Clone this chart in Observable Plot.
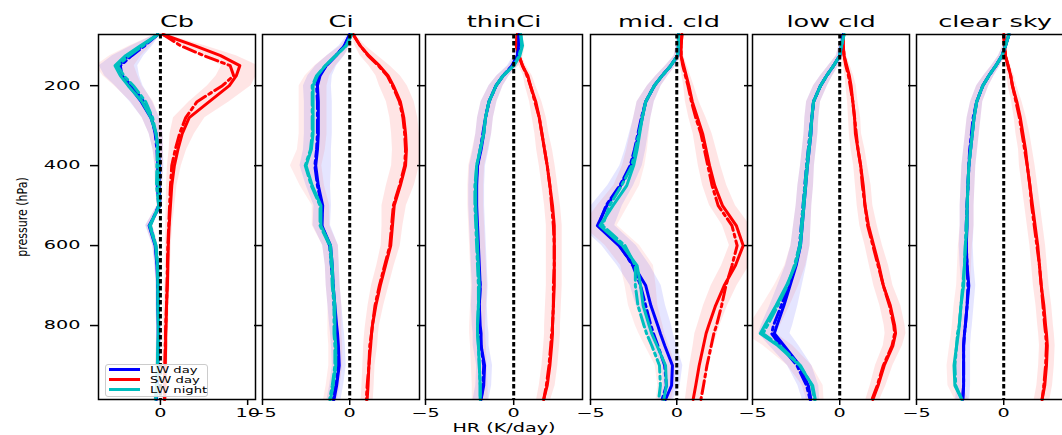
<!DOCTYPE html>
<html><head><meta charset="utf-8">
<script src="https://cdn.jsdelivr.net/npm/d3@7"></script>
<script src="https://cdn.jsdelivr.net/npm/@observablehq/plot@0.6"></script>
<style>
html,body{margin:0;padding:0;background:#fff;overflow:hidden;}
#chart{position:relative;width:1062px;height:435px;overflow:hidden;background:#fff;font-family:"DejaVu Sans",sans-serif;}
#chart svg{position:absolute;top:0;}
#chart svg [aria-label$="tick"]{stroke-width:1.5px;}
#chart svg .tick line{stroke-width:1.5px;}
.legend{position:absolute;left:105px;top:364px;width:101px;height:31px;border:1px solid #ccc;border-radius:3px;background:rgba(255,255,255,0.85);font-family:"DejaVu Sans",sans-serif;font-size:8.5px;}
.legend .sw{position:absolute;left:3px;width:31px;height:3px;}
.legend .lb{position:absolute;left:44px;height:10px;line-height:10px;white-space:nowrap;transform:scaleX(1.55);transform-origin:left center;color:#000;}
</style></head><body><div id="chart"></div>
<script>
// ---------- data ----------
const levels = [72, 100, 125, 150, 175, 200, 240, 280, 320, 360, 400, 450, 500, 550, 600, 650, 700, 750, 800, 820, 850, 900, 950, 985];

const seriesNames = ["LW day", "SW day", "LW night"];
const panelTitles = ["Cb", "Ci", "thinCi", "mid. cld", "low cld", "clear sky"];
const xDomains = [[-7.1, 10.9], [-5, 4.0], [-5, 3.9], [-5, 4.1], [-5, 4.0], [-5, 4.0]];
const xTicks = [[0, 10], [-5, 0], [-5, 0], [-5, 0], [-5, 0], [-5, 0]];
const yTicks = [200, 400, 600, 800];
const pressureDomain = [72, 985];
const zeroLine = [0];
const xLabel = "HR (K/day)";
const yLabel = "pressure (hPa)";

// Cb
const cbLwDay     = [-0.3, -2.1, -3.7, -4.8, -4.4, -3.6, -2.2, -1.1, -0.5, -0.25, -0.1, -0.15, -0.05, -1.3, -0.6, -0.4, -0.3, -0.3, -0.25, -0.25, -0.25, -0.3, -0.4, -0.5];
const cbLwDayDD   = [-0.3, -1.8, -3.3, -4.6, -4.4, -3.3, -1.9, -1.0, -0.6, -0.4, -0.3, -0.35, -0.2, -1.2, -0.55, -0.35, -0.3, -0.25, -0.2, -0.2, -0.2, -0.25, -0.35, -0.45];
const cbSwDay     = [0.3, 3.9, 6.9, 9.1, 8.7, 7.9, 5.6, 3.3, 2.5, 2.0, 1.6, 1.3, 1.15, 1.0, 0.9, 0.85, 0.8, 0.7, 0.65, 0.6, 0.6, 0.55, 0.5, 0.5];
const cbSwDayDD   = [0.3, 2.3, 5.0, 8.0, 8.4, 7.1, 4.2, 2.9, 2.2, 1.7, 1.3, 1.15, 1.05, 0.95, 0.85, 0.8, 0.75, 0.7, 0.6, 0.6, 0.55, 0.5, 0.5, 0.45];
const cbLwNight   = [-0.3, -2.3, -4.0, -5.2, -4.6, -3.7, -2.1, -1.1, -0.5, -0.25, -0.15, -0.2, -0.1, -1.25, -0.55, -0.35, -0.3, -0.3, -0.25, -0.25, -0.3, -0.35, -0.45, -0.55];
const cbLwNightDD = [-0.3, -2.0, -3.6, -4.9, -4.2, -3.1, -1.7, -0.9, -0.5, -0.35, -0.4, -0.45, -0.2, -1.15, -0.5, -0.3, -0.25, -0.25, -0.2, -0.2, -0.25, -0.3, -0.4, -0.5];
const cbLwSpread  = [0.3, 1.2, 1.8, 2.2, 2.0, 1.6, 1.3, 1.0, 0.8, 0.6, 0.5, 0.4, 0.3, 0.4, 0.3, 0.25, 0.2, 0.2, 0.2, 0.2, 0.2, 0.2, 0.2, 0.2];
const cbSwSpread  = [0.3, 1.2, 1.8, 2.1, 2.3, 2.5, 2.3, 1.8, 1.4, 1.0, 0.8, 0.6, 0.5, 0.4, 0.35, 0.3, 0.3, 0.3, 0.3, 0.3, 0.3, 0.3, 0.3, 0.3];

// Ci
const ciLwDay     = [0.0, -0.3, -0.8, -1.35, -1.7, -1.85, -1.8, -1.8, -1.8, -1.85, -1.95, -1.8, -1.55, -1.6, -1.1, -1.0, -0.95, -0.85, -0.75, -0.7, -0.65, -0.6, -0.75, -0.9];
const ciLwDayDD   = [0.0, -0.3, -0.8, -1.35, -1.75, -1.9, -1.85, -1.85, -1.85, -1.9, -2.0, -1.85, -1.6, -1.6, -1.15, -1.05, -0.95, -0.9, -0.8, -0.75, -0.7, -0.65, -0.8, -0.95];
const ciSwDay     = [0.2, 0.6, 1.1, 1.7, 2.2, 2.5, 2.9, 3.1, 3.2, 3.25, 3.2, 2.9, 2.55, 2.45, 2.35, 2.05, 1.75, 1.5, 1.3, 1.25, 1.2, 1.1, 1.05, 1.0];
const ciSwDayDD   = [0.2, 0.6, 1.05, 1.65, 2.15, 2.45, 2.85, 3.05, 3.15, 3.2, 3.15, 2.85, 2.5, 2.4, 2.3, 2.0, 1.7, 1.45, 1.3, 1.25, 1.15, 1.1, 1.0, 0.95];
const ciLwNight   = [0.1, -0.2, -0.8, -1.4, -1.85, -2.1, -2.1, -2.1, -2.1, -2.2, -2.5, -2.15, -1.65, -1.65, -1.1, -1.0, -0.95, -0.85, -0.85, -0.85, -0.8, -0.8, -0.95, -1.1];
const ciLwNightDD = [0.1, -0.2, -0.8, -1.4, -1.9, -2.15, -2.15, -2.15, -2.15, -2.25, -2.55, -2.2, -1.7, -1.7, -1.15, -1.05, -1.0, -0.9, -0.9, -0.9, -0.85, -0.85, -1.0, -1.15];
const ciLwSpread  = [0.1, 0.3, 0.5, 0.6, 0.7, 0.8, 0.8, 0.8, 0.8, 0.8, 0.9, 0.7, 0.5, 0.5, 0.45, 0.4, 0.4, 0.4, 0.4, 0.4, 0.4, 0.4, 0.4, 0.4];
const ciSwSpread  = [0.1, 0.3, 0.5, 0.6, 0.7, 0.8, 0.8, 0.8, 0.8, 0.8, 0.8, 0.8, 0.7, 0.6, 0.55, 0.5, 0.5, 0.45, 0.4, 0.4, 0.4, 0.35, 0.35, 0.35];

// thinCi
const thLwDay     = [0.3, 0.3, 0.2, -0.05, -0.6, -1.0, -1.4, -1.6, -1.7, -1.85, -2.05, -2.1, -2.1, -2.05, -2.0, -1.95, -1.9, -1.95, -1.9, -1.85, -1.85, -1.65, -1.7, -1.85];
const thLwDayDD   = [0.3, 0.3, 0.2, -0.1, -0.6, -1.0, -1.4, -1.6, -1.75, -1.9, -2.05, -2.15, -2.15, -2.1, -2.05, -2.0, -1.9, -1.95, -1.95, -1.9, -1.85, -1.7, -1.75, -1.85];
const thSwDay     = [0.2, 0.15, 0.3, 0.5, 0.8, 0.95, 1.25, 1.45, 1.6, 1.75, 1.9, 2.05, 2.2, 2.3, 2.3, 2.3, 2.3, 2.25, 2.2, 2.2, 2.15, 2.05, 1.9, 1.7];
const thSwDayDD   = [0.2, 0.15, 0.3, 0.5, 0.75, 0.95, 1.2, 1.45, 1.6, 1.75, 1.9, 2.05, 2.15, 2.25, 2.3, 2.3, 2.25, 2.25, 2.2, 2.15, 2.1, 2.0, 1.85, 1.7];
const thLwNight   = [0.4, 0.5, 0.35, 0.0, -0.6, -1.0, -1.4, -1.6, -1.7, -1.9, -2.1, -2.15, -2.15, -2.1, -2.05, -2.0, -1.95, -2.0, -2.05, -2.05, -2.0, -1.95, -1.9, -1.9];
const thLwNightDD = [0.4, 0.45, 0.3, 0.0, -0.6, -1.0, -1.4, -1.6, -1.7, -1.9, -2.1, -2.2, -2.2, -2.15, -2.1, -2.05, -2.0, -2.0, -2.05, -2.05, -2.0, -1.95, -1.9, -1.9];
const thLwSpread  = [0.1, 0.15, 0.2, 0.3, 0.35, 0.4, 0.45, 0.45, 0.45, 0.45, 0.45, 0.45, 0.45, 0.45, 0.45, 0.45, 0.45, 0.45, 0.45, 0.45, 0.45, 0.45, 0.45, 0.45];
const thSwSpread  = [0.1, 0.1, 0.15, 0.2, 0.25, 0.3, 0.35, 0.4, 0.4, 0.45, 0.45, 0.45, 0.45, 0.45, 0.45, 0.45, 0.45, 0.45, 0.45, 0.45, 0.45, 0.45, 0.45, 0.4];

// mid. cld
const midLwDay     = [0.1, 0.1, 0.05, -0.35, -0.85, -1.3, -1.8, -2.0, -2.2, -2.4, -2.65, -3.25, -4.05, -4.6, -3.35, -2.5, -1.8, -1.5, -1.1, -0.95, -0.7, -0.25, -0.3, -0.65];
const midLwDayDD   = [0.1, 0.1, 0.05, -0.35, -0.85, -1.3, -1.8, -2.05, -2.25, -2.45, -2.7, -3.3, -4.1, -4.55, -3.3, -2.55, -2.1, -1.8, -1.5, -1.35, -1.1, -0.7, -0.6, -0.85];
const midSwDay     = [0.3, 0.25, 0.25, 0.4, 0.55, 0.7, 0.9, 1.2, 1.5, 1.7, 1.9, 2.2, 2.65, 3.45, 3.85, 3.4, 2.75, 2.25, 1.85, 1.7, 1.55, 1.3, 1.1, 0.95];
const midSwDayDD   = [0.3, 0.25, 0.25, 0.35, 0.5, 0.65, 0.85, 1.1, 1.4, 1.6, 1.8, 2.05, 2.4, 3.2, 3.5, 3.2, 2.85, 2.6, 2.3, 2.15, 2.0, 1.75, 1.55, 1.4];
const midLwNight   = [0.1, 0.1, 0.05, -0.35, -0.85, -1.3, -1.8, -2.0, -2.15, -2.3, -2.5, -2.9, -3.7, -4.45, -3.15, -2.3, -2.1, -1.95, -1.6, -1.45, -1.15, -0.65, -0.6, -0.75];
const midLwNightDD = [0.1, 0.1, 0.05, -0.35, -0.85, -1.3, -1.8, -2.0, -2.2, -2.4, -2.6, -3.2, -3.9, -4.3, -3.0, -2.4, -2.4, -2.25, -1.9, -1.75, -1.45, -1.0, -0.95, -1.05];
const midLwSpread  = [0.1, 0.15, 0.2, 0.3, 0.35, 0.4, 0.5, 0.5, 0.55, 0.6, 0.65, 0.75, 0.9, 1.0, 1.0, 0.95, 0.9, 0.85, 0.8, 0.75, 0.7, 0.6, 0.5, 0.45];
const midSwSpread  = [0.1, 0.1, 0.15, 0.2, 0.25, 0.3, 0.4, 0.5, 0.55, 0.6, 0.65, 0.7, 0.75, 0.8, 0.8, 0.8, 0.75, 0.7, 0.65, 0.65, 0.6, 0.55, 0.5, 0.45];

// low cld
const lowLwDay     = [0.2, 0.1, 0.0, -0.35, -0.75, -1.1, -1.5, -1.6, -1.65, -1.75, -1.85, -1.95, -2.05, -2.15, -2.25, -2.5, -2.85, -3.2, -3.6, -3.75, -3.2, -2.3, -1.8, -1.65];
const lowLwDayDD   = [0.2, 0.1, 0.0, -0.35, -0.75, -1.1, -1.5, -1.6, -1.7, -1.8, -1.9, -2.0, -2.1, -2.2, -2.3, -2.55, -2.95, -3.35, -3.8, -3.9, -3.4, -2.45, -1.9, -1.7];
const lowSwDay     = [0.2, 0.2, 0.25, 0.4, 0.55, 0.65, 0.75, 0.85, 0.9, 1.05, 1.2, 1.35, 1.45, 1.65, 1.95, 2.25, 2.5, 2.9, 3.15, 3.2, 3.05, 2.55, 2.2, 1.9];
const lowSwDayDD   = [0.2, 0.2, 0.25, 0.35, 0.5, 0.6, 0.75, 0.85, 0.95, 1.05, 1.2, 1.3, 1.45, 1.6, 1.9, 2.2, 2.5, 2.85, 3.1, 3.15, 3.0, 2.5, 2.15, 1.85];
const lowLwNight   = [0.25, 0.1, 0.0, -0.35, -0.75, -1.1, -1.5, -1.6, -1.65, -1.75, -1.85, -1.95, -2.05, -2.15, -2.25, -2.55, -3.05, -3.65, -4.3, -4.55, -3.55, -2.3, -1.55, -1.4];
const lowLwNightDD = [0.25, 0.1, 0.0, -0.35, -0.75, -1.1, -1.5, -1.6, -1.7, -1.8, -1.9, -2.0, -2.1, -2.2, -2.3, -2.6, -3.0, -3.55, -4.15, -4.4, -3.45, -2.25, -1.6, -1.45];
const lowLwSpread  = [0.1, 0.15, 0.2, 0.3, 0.35, 0.4, 0.4, 0.4, 0.4, 0.4, 0.4, 0.45, 0.45, 0.5, 0.55, 0.6, 0.7, 0.8, 0.9, 0.9, 0.85, 0.7, 0.6, 0.5];
const lowSwSpread  = [0.1, 0.1, 0.15, 0.2, 0.25, 0.3, 0.3, 0.35, 0.35, 0.4, 0.4, 0.45, 0.45, 0.5, 0.5, 0.55, 0.55, 0.6, 0.6, 0.6, 0.55, 0.5, 0.45, 0.4];

// clear sky
const clrLwDay     = [0.3, 0.1, -0.1, -0.45, -0.85, -1.2, -1.55, -1.7, -1.8, -1.9, -2.0, -2.05, -2.1, -2.1, -2.15, -2.1, -2.0, -2.1, -2.2, -2.25, -2.3, -2.3, -2.3, -2.35];
const clrLwDayDD   = [0.3, 0.1, -0.1, -0.45, -0.85, -1.2, -1.55, -1.75, -1.85, -1.95, -2.0, -2.05, -2.1, -2.15, -2.15, -2.1, -2.05, -2.1, -2.2, -2.25, -2.3, -2.3, -2.3, -2.35];
const clrSwDay     = [0.0, 0.05, 0.1, 0.25, 0.4, 0.5, 0.75, 0.95, 1.1, 1.25, 1.35, 1.5, 1.65, 1.8, 1.95, 2.05, 2.15, 2.3, 2.4, 2.45, 2.5, 2.45, 2.35, 2.2];
const clrSwDayDD   = [0.0, 0.05, 0.1, 0.25, 0.4, 0.5, 0.7, 0.9, 1.05, 1.2, 1.35, 1.5, 1.6, 1.75, 1.9, 2.05, 2.15, 2.25, 2.35, 2.4, 2.45, 2.4, 2.3, 2.2];
const clrLwNight   = [0.3, 0.1, -0.1, -0.45, -0.85, -1.2, -1.55, -1.7, -1.8, -1.9, -2.0, -2.05, -2.1, -2.1, -2.2, -2.25, -2.3, -2.45, -2.55, -2.6, -2.7, -2.85, -2.8, -2.4];
const clrLwNightDD = [0.3, 0.1, -0.1, -0.45, -0.85, -1.2, -1.55, -1.7, -1.8, -1.9, -2.0, -2.05, -2.1, -2.15, -2.2, -2.25, -2.35, -2.45, -2.55, -2.65, -2.7, -2.8, -2.75, -2.4];
const clrLwSpread  = [0.1, 0.15, 0.2, 0.25, 0.3, 0.35, 0.35, 0.4, 0.4, 0.4, 0.4, 0.4, 0.4, 0.4, 0.4, 0.4, 0.4, 0.4, 0.4, 0.4, 0.4, 0.4, 0.4, 0.4];
const clrSwSpread  = [0.05, 0.1, 0.1, 0.15, 0.2, 0.25, 0.3, 0.35, 0.4, 0.4, 0.45, 0.45, 0.45, 0.45, 0.45, 0.45, 0.45, 0.45, 0.45, 0.45, 0.45, 0.45, 0.45, 0.45];

// ---------- assemble ----------
const panels = [
  {lwDay: cbLwDay, lwDayDD: cbLwDayDD, swDay: cbSwDay, swDayDD: cbSwDayDD, lwNight: cbLwNight, lwNightDD: cbLwNightDD, lwSpread: cbLwSpread, swSpread: cbSwSpread},
  {lwDay: ciLwDay, lwDayDD: ciLwDayDD, swDay: ciSwDay, swDayDD: ciSwDayDD, lwNight: ciLwNight, lwNightDD: ciLwNightDD, lwSpread: ciLwSpread, swSpread: ciSwSpread},
  {lwDay: thLwDay, lwDayDD: thLwDayDD, swDay: thSwDay, swDayDD: thSwDayDD, lwNight: thLwNight, lwNightDD: thLwNightDD, lwSpread: thLwSpread, swSpread: thSwSpread},
  {lwDay: midLwDay, lwDayDD: midLwDayDD, swDay: midSwDay, swDayDD: midSwDayDD, lwNight: midLwNight, lwNightDD: midLwNightDD, lwSpread: midLwSpread, swSpread: midSwSpread},
  {lwDay: lowLwDay, lwDayDD: lowLwDayDD, swDay: lowSwDay, swDayDD: lowSwDayDD, lwNight: lowLwNight, lwNightDD: lowLwNightDD, lwSpread: lowLwSpread, swSpread: lowSwSpread},
  {lwDay: clrLwDay, lwDayDD: clrLwDayDD, swDay: clrSwDay, swDayDD: clrSwDayDD, lwNight: clrLwNight, lwNightDD: clrLwNightDD, lwSpread: clrLwSpread, swSpread: clrSwSpread}
];

// ---------- layout & style ----------
const BLUE = "#0000ff", RED = "#ff0000", CYAN = "#00bfbf";
const seriesColors = [BLUE, RED, CYAN];
const frameLefts = [98, 262, 425, 590, 752, 916];
const frameWidth = 157;
const H = 435, MT = 34, MB = 36;
const SX = 1.6;
const DASHDOT = "13,4,3,4";

function rows(vals, spread) {
  return levels.map((p, i) => ({p, v: vals[i], lo: spread ? vals[i] - spread[i] : vals[i], hi: spread ? vals[i] + spread[i] : vals[i]}));
}

function stretchText(svg) {
  svg.querySelectorAll("text").forEach(el => {
    const tr = el.getAttribute("transform") || "";
    if (/rotate/.test(tr)) {
      el.setAttribute("transform", tr + " scale(1,1.3)");
    } else {
      const x0 = parseFloat(el.getAttribute("x")) || 0;
      el.setAttribute("transform", (tr + ` translate(${x0},0) scale(${SX},1) translate(${-x0},0)`).trim());
    }
  });
}

const chart = document.getElementById("chart");

panels.forEach((P, i) => {
  const first = i === 0;
  const ml = first ? frameLefts[0] : 12;
  const mr = 4;
  const sw = rows(P.swDay, P.swSpread), swdd = rows(P.swDayDD);
  const lw = rows(P.lwDay, P.lwSpread), lwdd = rows(P.lwDayDD);
  const ln = rows(P.lwNight, P.lwSpread), lndd = rows(P.lwNightDD);
  const line = (d, c, dash) => Plot.line(d, {x: "v", y: "p", stroke: c, strokeWidth: 3, strokeDasharray: dash, strokeLinejoin: "round"});
  const band = (d, c, o) => Plot.areaX(d, {y: "p", x1: "lo", x2: "hi", fill: c, fillOpacity: o, clip: true});
  const marks = [
    band(sw, RED, 0.1),
    band(lw, BLUE, 0.1),
    band(ln, RED, 0.08),
    line(swdd, RED, DASHDOT),
    line(sw, RED, null),
    line(lwdd, BLUE, DASHDOT),
    line(lw, BLUE, null),
    line(lndd, CYAN, DASHDOT),
    line(ln, CYAN, null),
    Plot.ruleX(zeroLine, {stroke: "black", strokeWidth: 3, strokeDasharray: "4.5,2.5"}),
    Plot.frame({stroke: "black", strokeWidth: 1.5}),
    Plot.text([panelTitles[i]], {frameAnchor: "top", dy: -13, fontSize: 16, lineAnchor: "middle", textAnchor: "middle", fill: "black"})
  ];
  if (first) marks.push(Plot.text([yLabel], {frameAnchor: "left", dx: -76, rotate: -90, fontSize: 11, textAnchor: "middle", lineAnchor: "middle", fill: "black"}));
  if (i === 2) marks.push(Plot.text([xLabel], {frameAnchor: "bottom", dy: 29, fontSize: 12, textAnchor: "middle", lineAnchor: "middle", fill: "black"}));

  const svg = Plot.plot({
    width: ml + frameWidth + mr,
    height: H,
    marginLeft: ml, marginRight: mr, marginTop: MT, marginBottom: MB,
    style: {background: "transparent", overflow: "visible", fontFamily: "DejaVu Sans", fontSize: "12px", color: "black", maxWidth: "none"},
    x: {domain: xDomains[i], ticks: xTicks[i], tickSize: 6, tickPadding: 3, label: null, tickFormat: d3.format("d")},
    y: {domain: pressureDomain, reverse: true, ticks: yTicks, tickSize: 8, tickPadding: 10, label: null,
        tickFormat: first ? d3.format("d") : () => ""},
    marks
  });
  svg.style.left = (frameLefts[i] - ml) + "px";
  stretchText(svg);
  chart.appendChild(svg);
});

// legend
const leg = document.createElement("div");
leg.className = "legend";
seriesNames.forEach((name, k) => {
  const s = document.createElement("div");
  s.className = "sw";
  s.style.top = (3 + 10 * k) + "px";
  s.style.background = seriesColors[k];
  leg.appendChild(s);
  const t = document.createElement("div");
  t.className = "lb";
  t.style.top = (-0.5 + 10 * k) + "px";
  t.textContent = name;
  leg.appendChild(t);
});
chart.appendChild(leg);
</script></body></html>
